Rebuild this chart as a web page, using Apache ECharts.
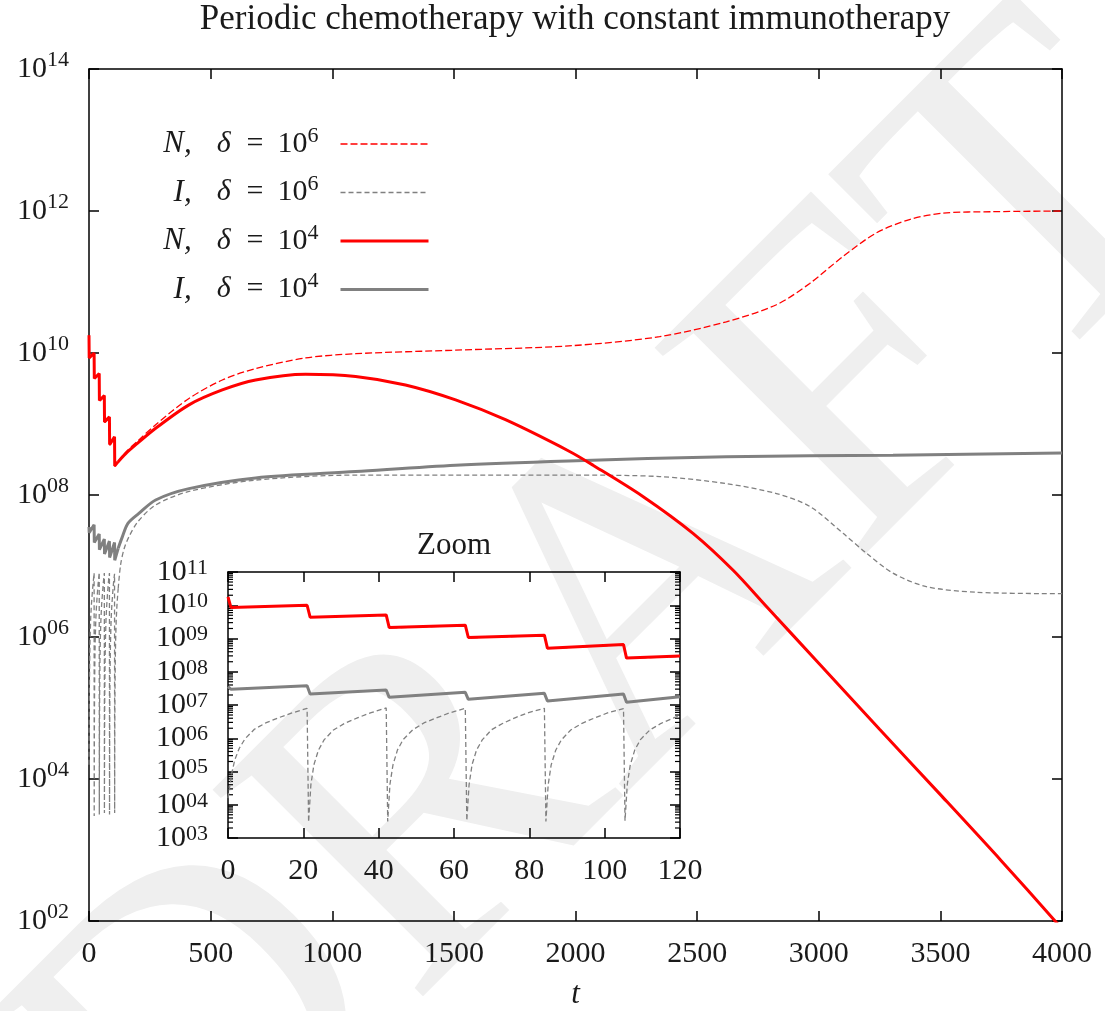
<!DOCTYPE html>
<html>
<head>
<meta charset="utf-8">
<script src="https://cdn.jsdelivr.net/npm/echarts@6/dist/echarts.min.js"></script>
<style>
html,body{margin:0;padding:0;background:#ffffff;}
#chart{width:1105px;height:1011px;}
</style>
</head>
<body>
<div id="chart"></div>
<script>
// ---------------- DATA (values stored as log10 of the population) ----------------
// Early phase (chemotherapy doses every ~21 time units), shared by main plot and zoom inset
const tN_early  = [0, 0.8, 21, 21.8, 42, 42.8, 63, 63.8, 84, 84.8, 105, 105.8, 120];
const eN4_early = [10.25, 9.93, 10.0, 9.64, 9.71, 9.33, 9.40, 9.03, 9.10, 8.71, 8.82, 8.41, 8.47];
const eN6_early = [10.25, 9.93, 10.0, 9.64, 9.70, 9.32, 9.39, 9.02, 9.09, 8.70, 8.81, 8.40, 8.46];
const tI4_early = [0, 0.8, 21, 21.8, 42, 42.8, 63, 63.8, 84, 84.8, 105, 105.8, 120];
const eI4_early = [7.55, 7.47, 7.58, 7.33, 7.45, 7.23, 7.38, 7.17, 7.35, 7.12, 7.33, 7.08, 7.25];
const tI6_early = [0, 1, 1.8, 3, 4.5, 7, 10, 13.5, 17, 21,
  21.4, 22, 22.8, 24, 25.5, 28, 31, 34.5, 38, 42,
  42.4, 43, 43.8, 45, 46.5, 49, 52, 55.5, 59, 63,
  63.4, 64, 64.8, 66, 67.5, 70, 73, 76.5, 80, 84,
  84.4, 85, 85.8, 87, 88.5, 91, 94, 97.5, 101, 105,
  105.4, 106, 106.8, 108, 109.5, 112, 115, 118.5, 120];
const eI6_early = [4.2, 4.95, 5.35, 5.7, 5.98, 6.27, 6.46, 6.62, 6.76, 6.9,
  3.48, 4.6, 5.2, 5.64, 5.95, 6.25, 6.45, 6.62, 6.77, 6.91,
  3.5, 4.62, 5.2, 5.65, 5.96, 6.25, 6.46, 6.62, 6.77, 6.9,
  3.52, 4.6, 5.21, 5.65, 5.95, 6.26, 6.45, 6.63, 6.78, 6.9,
  3.5, 4.6, 5.2, 5.64, 5.95, 6.25, 6.45, 6.62, 6.77, 6.89,
  3.52, 4.61, 5.2, 5.65, 5.96, 6.25, 6.45, 6.62, 6.68];

// Late phase (main plot only)
const tN4_late = [150, 200, 274, 411, 548, 685, 890, 1096, 1301, 1507, 1712, 1972, 2072, 2277, 2483, 2648, 2785, 3000, 3250, 3500, 3750, 4000];
const eN4_late = [8.58, 8.73, 8.94, 9.27, 9.48, 9.62, 9.70, 9.67, 9.55, 9.34, 9.06, 8.62, 8.42, 7.98, 7.46, 6.94, 6.43, 5.63, 4.70, 3.78, 2.85, 1.89];
const tN6_late = [150, 200, 274, 411, 548, 685, 890, 1096, 1507, 1972, 2346, 2620, 2826, 2963, 3100, 3236, 3373, 3510, 3716, 4000];
const eN6_late = [8.60, 8.76, 8.99, 9.36, 9.62, 9.78, 9.93, 9.99, 10.04, 10.10, 10.23, 10.44, 10.68, 10.98, 11.36, 11.69, 11.88, 11.97, 11.99, 12.0];
const tI4_late = [137, 160, 205, 274, 411, 685, 1096, 1507, 1972, 2620, 3305, 4000];
const eI4_late = [7.41, 7.60, 7.74, 7.93, 8.09, 8.24, 8.33, 8.42, 8.48, 8.54, 8.56, 8.59];
const tI6_late = [130, 145, 164, 200, 274, 411, 685, 1096, 1507, 1972, 2346, 2620, 2826, 2963, 3100, 3196, 3305, 3442, 3647, 4000];
const eI6_late = [7.02, 7.25, 7.41, 7.62, 7.86, 8.05, 8.21, 8.28, 8.28, 8.28, 8.26, 8.16, 8.02, 7.84, 7.46, 7.18, 6.90, 6.71, 6.63, 6.61];

// Tick labels
const mainYExps = [2, 4, 6, 8, 10, 12, 14];
const mainYSup  = ['02', '04', '06', '08', '10', '12', '14'];
const insetYExps = [3, 4, 5, 6, 7, 8, 9, 10, 11];
const insetYSup  = ['03', '04', '05', '06', '07', '08', '09', '10', '11'];
const insetMinorMult = [2, 3, 4, 5, 6, 7, 8, 9];

// Legend labels
const legendVar  = { N6: 'N,', I6: 'I,', N4: 'N,', I4: 'I,' };
const legendDeltaExp = { N6: '6', I6: '6', N4: '4', I4: '4' };

const titleText = 'Periodic chemotherapy with constant immunotherapy';
const insetTitle = 'Zoom';
const xName = 't';
const watermarkText = 'DRAFT';

// ---------------- helpers ----------------
const FONT = '"Liberation Serif", "DejaVu Serif", serif';
const TXT = '#1a1a1a';
const RED = '#ff0000';
const GRAY = '#808080';
const pairs = (t, e) => t.map((x, i) => [x, Math.pow(10, e[i])]);
const lastPoint = (t, e) => [t[t.length - 1], Math.pow(10, e[e.length - 1])];

function yLabel(exps, sups) {
  return function (v) {
    const ex = Math.round(Math.log10(v));
    const i = exps.indexOf(ex);
    return i < 0 ? '' : '{b|10}{s|' + sups[i] + '}';
  };
}
const yRich = {
  b: { fontSize: 30, lineHeight: 40, fontFamily: FONT, color: TXT },
  s: { fontSize: 22, lineHeight: 20, verticalAlign: 'top', fontFamily: FONT, color: TXT }
};
const yRichInset = {
  b: { fontSize: 30, lineHeight: 30, fontFamily: FONT, color: TXT },
  s: { fontSize: 22, lineHeight: 13, verticalAlign: 'top', fontFamily: FONT, color: TXT }
};

const insetMinor = [];
insetYExps.slice(0, -1).forEach(ex => insetMinorMult.forEach(m => insetMinor.push(m * Math.pow(10, ex))));

const insetXMin = 0, insetXMax = 120;

function lineSeries(name, data, color, width, dash, xi, yi, smooth) {
  return {
    type: 'line', name: name, data: data, xAxisIndex: xi, yAxisIndex: yi,
    showSymbol: false, symbol: 'none', smooth: smooth || false, clip: true,
    lineStyle: { color: color, width: width, type: dash ? dash : 'solid' },
    itemStyle: { color: color },
    emphasis: { disabled: true }, silent: true
  };
}

const axisLineStyle = { color: '#000', width: 1.5 };
function xAxisDef(grid, pos, min, max, interval, labels, extra) {
  return Object.assign({
    type: 'value', gridIndex: grid, position: pos, min: min, max: max, interval: interval,
    axisLine: { show: true, onZero: false, lineStyle: axisLineStyle },
    axisTick: { show: true, inside: true, length: 10, lineStyle: axisLineStyle },
    axisLabel: { show: labels, fontSize: 30, fontFamily: FONT, color: TXT, margin: 18,
      showMinLabel: true, showMaxLabel: true, formatter: v => String(v) },
    splitLine: { show: false }
  }, extra || {});
}
function yAxisDef(grid, pos, min, max, interval, labelFn, rich) {
  return {
    type: 'log', logBase: 10, gridIndex: grid, position: pos, min: min, max: max, interval: interval,
    axisLine: { show: true, onZero: false, lineStyle: axisLineStyle },
    axisTick: { show: true, inside: true, length: 10, lineStyle: axisLineStyle },
    axisLabel: labelFn ? { show: true, formatter: labelFn, rich: rich, margin: 20,
      showMinLabel: true, showMaxLabel: true, hideOverlap: false } : { show: false },
    splitLine: { show: false }, minorTick: { show: false }
  };
}

const chart = echarts.init(document.getElementById('chart'), null, { renderer: 'canvas' });

const series = [
  // main plot
  lineSeries('I6', pairs(tI6_early, eI6_early), GRAY, 1.3, [5, 3], 0, 0),
  lineSeries('I6', [lastPoint(tI6_early, eI6_early)].concat(pairs(tI6_late, eI6_late)), GRAY, 1.3, [5, 3], 0, 0, 0.3),
  lineSeries('N6', pairs(tN_early, eN6_early), RED, 1.3, [7, 3], 0, 0),
  lineSeries('N6', [lastPoint(tN_early, eN6_early)].concat(pairs(tN6_late, eN6_late)), RED, 1.3, [7, 3], 0, 0, 0.3),
  lineSeries('I4', pairs(tI4_early, eI4_early), GRAY, 3, null, 0, 0),
  lineSeries('I4', [lastPoint(tI4_early, eI4_early)].concat(pairs(tI4_late, eI4_late)), GRAY, 3, null, 0, 0, 0.3),
  lineSeries('N4', pairs(tN_early, eN4_early), RED, 3, null, 0, 0),
  lineSeries('N4', [lastPoint(tN_early, eN4_early)].concat(pairs(tN4_late, eN4_late)), RED, 3, null, 0, 0, 0.3),
  // inset
  lineSeries('I6', pairs(tI6_early, eI6_early), GRAY, 1.3, [5, 3], 2, 2),
  lineSeries('N6', pairs(tN_early, eN6_early), RED, 1.3, [7, 3], 2, 2),
  lineSeries('I4', pairs(tI4_early, eI4_early), GRAY, 3, null, 2, 2),
  lineSeries('N4', pairs(tN_early, eN4_early), RED, 3, null, 2, 2),
  // inset minor ticks (log positions) on left and right borders
  {
    type: 'custom', xAxisIndex: 2, yAxisIndex: 2, silent: true, clip: false,
    data: insetMinor.map(v => [insetXMin, v]), encode: { x: 0, y: 1 },
    renderItem: function (params, api) {
      const v = api.value(1);
      const pL = api.coord([insetXMin, v]);
      const pR = api.coord([insetXMax, v]);
      return {
        type: 'group', children: [
          { type: 'line', shape: { x1: pL[0], y1: pL[1], x2: pL[0] + 5, y2: pL[1] }, style: { stroke: '#000', lineWidth: 1.2 } },
          { type: 'line', shape: { x1: pR[0] - 5, y1: pR[1], x2: pR[0], y2: pR[1] }, style: { stroke: '#000', lineWidth: 1.2 } }
        ]
      };
    }
  }
];

const hideSym = { opacity: 0 };
const option = {
  animation: false,
  backgroundColor: '#ffffff',
  textStyle: { fontFamily: FONT },
  title: [
    { text: titleText, left: 575, top: 2, padding: 0, textAlign: 'center',
      textStyle: { fontFamily: FONT, fontSize: 35, fontWeight: 'normal', color: TXT, lineHeight: 36 } },
    { text: insetTitle, left: 454, top: 530, padding: 0, textAlign: 'center',
      textStyle: { fontFamily: FONT, fontSize: 31, fontWeight: 'normal', color: TXT, lineHeight: 32 } }
  ],
  graphic: [{
    type: 'text', x: 620, y: 632, rotation: Math.PI / 4, z: -100, silent: true,
    style: { text: watermarkText, font: '450px "Liberation Serif"', fill: '#efefef', align: 'center', verticalAlign: 'middle' }
  }],
  legend: {
    orient: 'vertical', right: 675, top: 125, padding: 0,
    itemWidth: 88, itemHeight: 14, itemGap: 14, align: 'right', selectedMode: false,
    data: [
      { name: 'N6', lineStyle: { width: 1.3 }, itemStyle: hideSym },
      { name: 'I6', lineStyle: { width: 1.3 }, itemStyle: hideSym },
      { name: 'N4', lineStyle: { width: 3 }, itemStyle: hideSym },
      { name: 'I4', lineStyle: { width: 3 }, itemStyle: hideSym }
    ],
    formatter: function (name) {
      return '{v|' + legendVar[name] + '}{d|δ}{e|=}{r|10}{s|' + legendDeltaExp[name] + '}';
    },
    textStyle: {
      fontFamily: FONT, fontSize: 30, color: TXT,
      rich: {
        v: { fontFamily: FONT, fontSize: 31, fontStyle: 'italic', width: 36, align: 'right', lineHeight: 38, color: TXT },
        d: { fontFamily: FONT, fontSize: 30, fontStyle: 'italic', lineHeight: 38, padding: [0, 0, 0, 25], color: TXT },
        e: { fontFamily: FONT, fontSize: 30, lineHeight: 38, padding: [0, 14, 0, 16], color: TXT },
        r: { fontFamily: FONT, fontSize: 30, lineHeight: 38, color: TXT },
        s: { fontFamily: FONT, fontSize: 22, lineHeight: 18, verticalAlign: 'top', padding: [0, 17, 0, 0], color: TXT }
      }
    }
  },
  grid: [
    { left: 89, top: 69, width: 973, height: 852, containLabel: false, outerBoundsMode: 'none' },
    { left: 228, top: 572, width: 452, height: 266, containLabel: false, outerBoundsMode: 'none' }
  ],
  xAxis: [
    xAxisDef(0, 'bottom', 0, 4000, 500, true, {
      name: xName, nameLocation: 'middle', nameGap: 74,
      nameTextStyle: { fontFamily: FONT, fontSize: 31, fontStyle: 'italic', color: TXT, verticalAlign: 'middle' }
    }),
    xAxisDef(0, 'top', 0, 4000, 500, false),
    xAxisDef(1, 'bottom', insetXMin, insetXMax, 20, true),
    xAxisDef(1, 'top', insetXMin, insetXMax, 20, false)
  ],
  yAxis: [
    yAxisDef(0, 'left', 1e2, 1e14, 2, yLabel(mainYExps, mainYSup), yRich),
    yAxisDef(0, 'right', 1e2, 1e14, 2, null),
    yAxisDef(1, 'left', 1e3, 1e11, 1, yLabel(insetYExps, insetYSup), yRichInset),
    yAxisDef(1, 'right', 1e3, 1e11, 1, null)
  ],
  series: series
};
chart.setOption(option);
</script>
</body>
</html>
